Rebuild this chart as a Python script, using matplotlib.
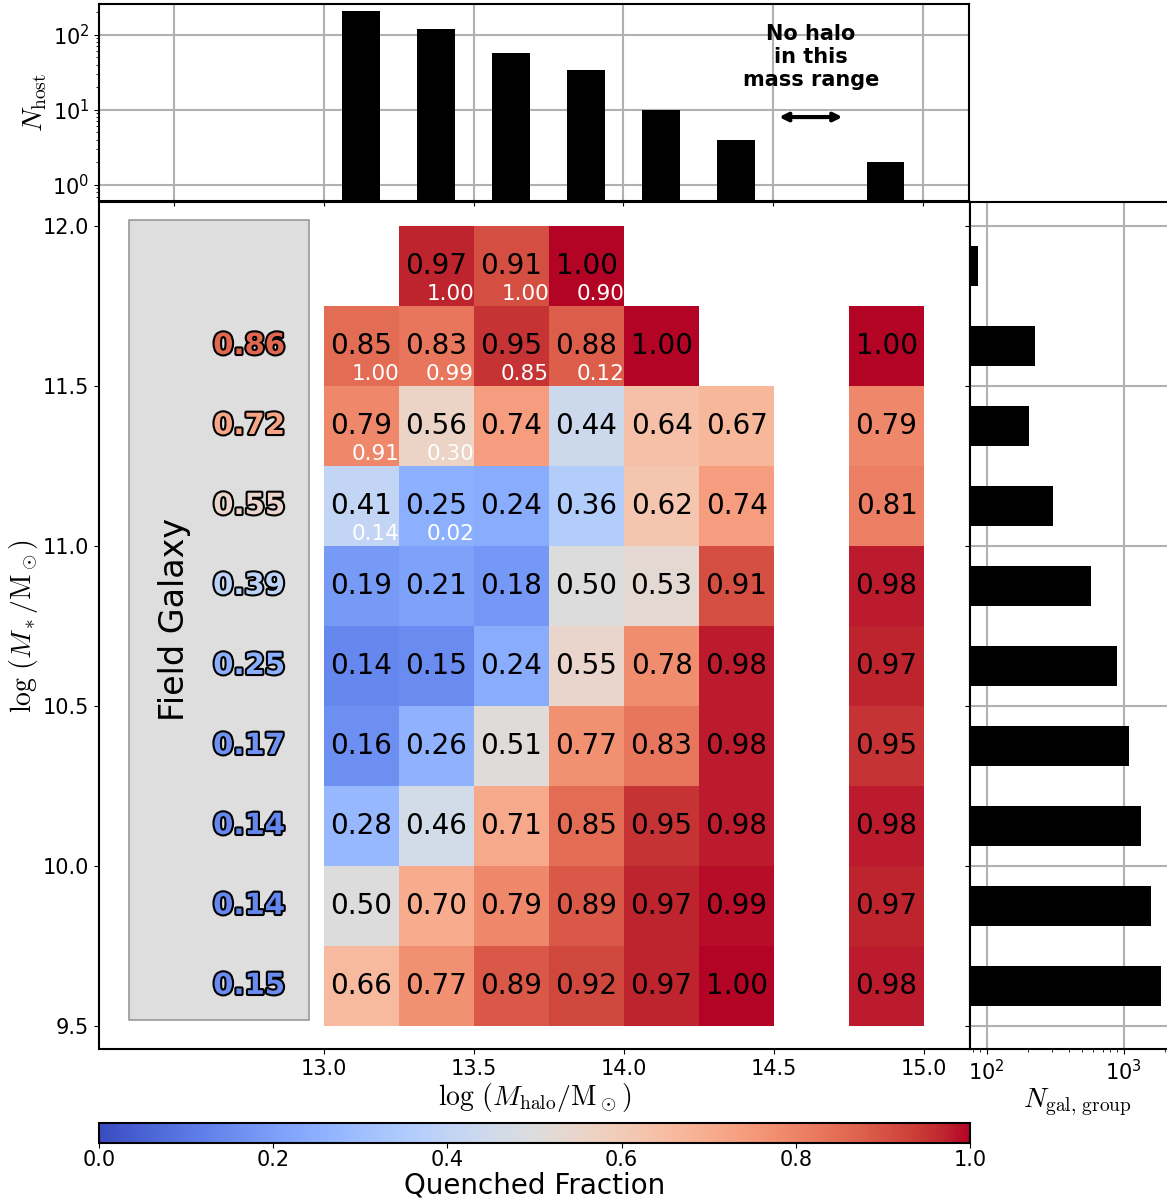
import numpy as np
import matplotlib
matplotlib.use("Agg")
import matplotlib.pyplot as plt
import matplotlib.patches as patches
import matplotlib.patheffects as pe

plt.rcParams['mathtext.fontset'] = 'cm'
plt.rcParams['axes.linewidth'] = 1.5
plt.rcParams['xtick.labelsize'] = 15
plt.rcParams['ytick.labelsize'] = 15

# bins
halo_edges = [13.0, 13.25, 13.5, 13.75, 14.0, 14.25, 14.5, 14.75, 15.0]
mstar_edges = [9.5, 9.75, 10.0, 10.25, 10.5, 10.75, 11.0, 11.25, 11.5, 11.75, 12.0]

# quenched fraction, rows from low to high stellar mass
qf = np.array([
    [0.66, 0.77, 0.89, 0.92, 0.97, 1.00, np.nan, 0.98],
    [0.50, 0.70, 0.79, 0.89, 0.97, 0.99, np.nan, 0.97],
    [0.28, 0.46, 0.71, 0.85, 0.95, 0.98, np.nan, 0.98],
    [0.16, 0.26, 0.51, 0.77, 0.83, 0.98, np.nan, 0.95],
    [0.14, 0.15, 0.24, 0.55, 0.78, 0.98, np.nan, 0.97],
    [0.19, 0.21, 0.18, 0.50, 0.53, 0.91, np.nan, 0.98],
    [0.41, 0.25, 0.24, 0.36, 0.62, 0.74, np.nan, 0.81],
    [0.79, 0.56, 0.74, 0.44, 0.64, 0.67, np.nan, 0.79],
    [0.85, 0.83, 0.95, 0.88, 1.00, np.nan, np.nan, 1.00],
    [np.nan, 0.97, 0.91, 1.00, np.nan, np.nan, np.nan, np.nan],
])

# second (small white) numbers in some cells
qf_sub = np.full(qf.shape, np.nan)
qf_sub[9, 1:4] = [1.00, 1.00, 0.90]
qf_sub[8, 0:4] = [1.00, 0.99, 0.85, 0.12]
qf_sub[7, 0:2] = [0.91, 0.30]
qf_sub[6, 0:2] = [0.14, 0.02]

# field galaxies, rows 9.625 .. 11.625
field_qf = [0.15, 0.14, 0.14, 0.17, 0.25, 0.39, 0.55, 0.72, 0.86]

# histograms
n_host = [207, 119, 57, 34, 10, 4, 0, 2]
n_gal = [1860, 1580, 1340, 1100, 890, 580, 303, 204, 225, 87]

W, H = 1167, 1201
fig = plt.figure(figsize=(W / 100, H / 100), dpi=100)

def px(l, t, r, b):
    return [l / W, 1 - b / H, (r - l) / W, (b - t) / H]

ax = fig.add_axes(px(99, 202, 970, 1049))
axt = fig.add_axes(px(99, 4, 969, 201))
axr = fig.add_axes(px(970, 202, 1185, 1049))
cax = fig.add_axes(px(99, 1123, 970, 1143))

cmap = plt.get_cmap('coolwarm')
hx = np.array(halo_edges)
my = np.array(mstar_edges)
hc = (hx[:-1] + hx[1:]) / 2
mc = (my[:-1] + my[1:]) / 2

mesh = ax.pcolormesh(hx, my, np.ma.masked_invalid(qf), cmap=cmap, vmin=0, vmax=1)

for i in range(len(mc)):
    for j in range(len(hc)):
        if not np.isnan(qf[i, j]):
            ax.text(hc[j], mc[i], f"{qf[i, j]:.2f}", ha='center', va='center',
                    fontsize=20, color='black')
        if not np.isnan(qf_sub[i, j]):
            ax.text(hx[j + 1], my[i] + 0.005, f"{qf_sub[i, j]:.2f}", ha='right',
                    va='bottom', fontsize=15.5, color='white')

# field galaxy panel
ax.add_patch(patches.Rectangle((12.35, 9.52), 0.6, 2.5, facecolor='#dedede',
                               edgecolor='#999999', lw=1.2))
ax.text(12.5, 10.77, "Field Galaxy", rotation=90, ha='center', va='center', fontsize=24)
for i, v in enumerate(field_qf):
    ax.text(12.75, mc[i], f"{v:.2f}", ha='center', va='center', fontsize=21,
            fontweight='bold', color=cmap(v),
            path_effects=[pe.Stroke(linewidth=3, foreground='black'), pe.Normal()])

ax.set_xlim(12.25, 15.153)
ax.set_ylim(9.428, 12.075)
ax.set_xticks([13.0, 13.5, 14.0, 14.5, 15.0])
ax.set_yticks([9.5, 10.0, 10.5, 11.0, 11.5, 12.0])
ax.set_xlabel(r'$\log\,(M_{\rm halo}/{\rm M_\odot})$', fontsize=20, labelpad=2)
ax.set_ylabel(r'$\log\,(M_*/{\rm M_\odot})$', fontsize=20, labelpad=2)

# top histogram
hb = [(c, n) for c, n in zip(hc, n_host) if n > 0]
axt.bar([c for c, n in hb], [n for c, n in hb], width=0.125, color='black', zorder=3)
axt.set_yscale('log')
axt.set_ylim(0.61, 256)
axt.set_xlim(12.25, 15.153)
axt.set_xticks([12.5, 13.0, 13.5, 14.0, 14.5, 15.0])
axt.set_xticklabels([])
axt.grid(True, color='#b0b0b0', lw=1.5)
axt.set_ylabel(r'$N_{\rm host}$', fontsize=20, labelpad=2)
axt.text(14.625, 50, "No halo\nin this\nmass range", ha='center', va='center',
         fontsize=15, fontweight='bold', zorder=5)
axt.annotate('', xy=(14.51, 8), xytext=(14.74, 8),
             arrowprops=dict(arrowstyle='<->', lw=3, color='black', mutation_scale=12))

# right histogram
axr.barh(mc, n_gal, height=0.125, color='black', zorder=3)
axr.set_xscale('log')
axr.set_xlim(75.5, 2800)
axr.set_ylim(9.428, 12.075)
axr.set_yticks([9.5, 10.0, 10.5, 11.0, 11.5, 12.0])
axr.set_yticklabels([])
axr.grid(True, color='#b0b0b0', lw=1.5)
axr.spines['right'].set_visible(False)
axr.set_xlabel(r'$N_{\rm gal,\,group}$', fontsize=20, labelpad=2)

cb = fig.colorbar(mesh, cax=cax, orientation='horizontal')
cb.set_ticks([0.0, 0.2, 0.4, 0.6, 0.8, 1.0])
cax.tick_params(pad=1.5)
cb.set_label('Quenched Fraction', fontsize=20, labelpad=1)

fig.savefig('out.png', dpi=100)
